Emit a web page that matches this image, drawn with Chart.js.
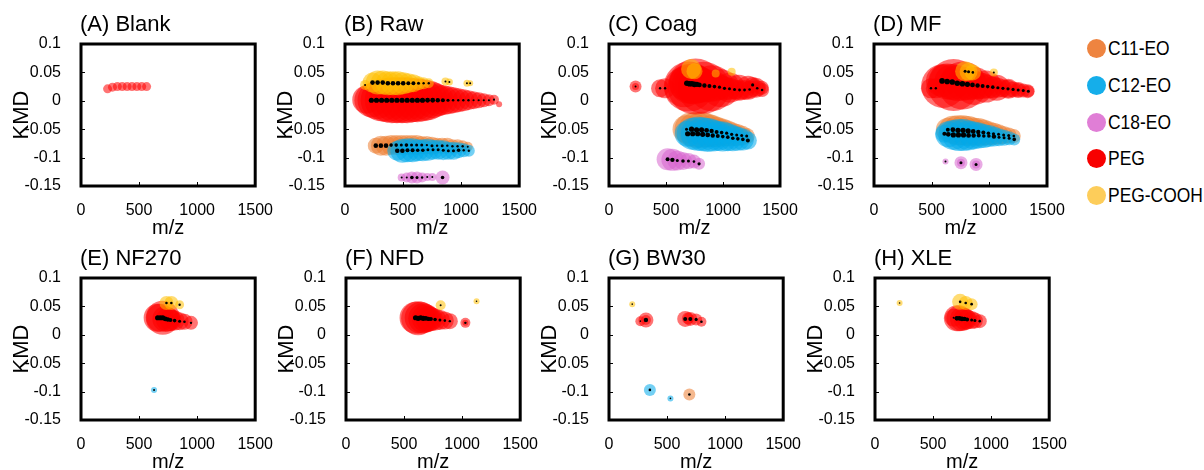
<!DOCTYPE html>
<html>
<head>
<meta charset="utf-8">
<script src="https://cdn.jsdelivr.net/npm/chart.js@4.4.1/dist/chart.umd.min.js"></script>
<style>
  html, body { margin: 0; padding: 0; background: #fff; }
  body { width: 1204px; height: 470px; position: relative; overflow: hidden; }
  canvas { position: absolute; }
  .legend-item {
    position: absolute; left: 1087px; height: 24px; line-height: 24px;
    font: 21px "Liberation Sans", Arial, sans-serif; color: #000;
    white-space: nowrap;
  }
  .legend-item .mark {
    display: inline-block; width: 19px; height: 19px; border-radius: 50%;
    vertical-align: -3px; margin-right: 2px;
  }
  .legend-item .name {
    display: inline-block; transform: scaleX(0.83); transform-origin: 0 50%;
  }
</style>
</head>
<body>
<canvas id="cA" width="280" height="240" style="left:0px;top:0px"></canvas>
<canvas id="cB" width="280" height="240" style="left:264px;top:0px"></canvas>
<canvas id="cC" width="280" height="240" style="left:528px;top:0px"></canvas>
<canvas id="cD" width="280" height="240" style="left:793px;top:0px"></canvas>
<canvas id="cE" width="280" height="240" style="left:0px;top:234px"></canvas>
<canvas id="cF" width="280" height="240" style="left:265px;top:234px"></canvas>
<canvas id="cG" width="280" height="240" style="left:528px;top:234px"></canvas>
<canvas id="cH" width="280" height="240" style="left:794px;top:234px"></canvas>
<div id="legend"></div>
<script>
// axis ticks
const xTickValues = [0, 500, 1000, 1500];
const yTickValues = [-0.15, -0.1, -0.05, 0, 0.05, 0.1];
const yTickLabels = ['-0.15', '-0.1', '-0.05', '0', '0.05', '0.1'];
// panels C and G print the -0.05 tick without its minus sign
const yTickLabelsCG = ['-0.15', '-0.1', '0.05', '0', '0.05', '0.1'];

const seriesNames = ['C11-EO', 'C12-EO', 'C18-EO', 'PEG', 'PEG-COOH'];
const legendColors = ['#EE8440', '#15AEEA', '#E07ED6', '#F80000', '#FDCD5A'];
const bubbleColors = [
  'rgba(237,125,49,0.55)',
  'rgba(0,170,235,0.55)',
  'rgba(215,100,205,0.55)',
  'rgba(255,0,0,0.55)',
  'rgba(255,192,0,0.55)',
];

// each point: [m/z, KMD, bubble r, black dot r]
const blankPEG = [
  [229, 0.021, 4.5, 0], [271, 0.024, 4.5, 0], [313, 0.025, 4.5, 0], [355, 0.025, 4.5, 0],
  [397, 0.025, 4.5, 0], [439, 0.025, 4.5, 0], [481, 0.025, 4.5, 0], [523, 0.025, 4.5, 0],
  [565, 0.025, 4.5, 0],
];

const rawPEG = [
  [183, 0.002, 14, 0], [227, 0.001, 17, 2.6], [271, 0.001, 19, 2.6], [315, 0.001, 21, 2.6],
  [359, 0.001, 22, 2.6], [403, 0.001, 23, 2.6], [447, 0.001, 23, 2.6], [491, 0.001, 23, 2.6],
  [535, 0.001, 23, 2.6], [579, 0.001, 22, 2.6], [623, 0.001, 22, 2.6], [667, 0.001, 21, 2.6],
  [711, 0.001, 20, 2.4], [755, 0.001, 18, 2.4], [799, 0.001, 16, 2.2], [843, 0.001, 15, 2.0],
  [887, 0.001, 14, 1.6], [931, 0.001, 13, 1.3], [975, 0.001, 12, 1.2], [1019, 0.001, 11, 1.2],
  [1063, 0.001, 10, 1.2], [1107, 0.001, 9, 1.1], [1151, 0.001, 8, 1.1], [1195, 0.001, 7, 1.1],
  [1239, 0.001, 6, 1.1], [1283, 0.002, 5, 1.1], [1327, -0.006, 3, 0],
];
const rawCOOH = [
  [173, 0.028, 5, 1.0], [237, 0.032, 10, 2.3], [281, 0.032, 12, 2.3], [325, 0.032, 12, 2.3],
  [369, 0.031, 12, 2.3], [413, 0.031, 12, 2.3], [457, 0.031, 12, 2.3], [501, 0.031, 11, 2.3],
  [545, 0.031, 10, 2.0], [589, 0.031, 9, 2.0], [633, 0.031, 7, 1.5], [677, 0.031, 6, 1.2],
  [721, 0.031, 5, 1.2], [865, 0.034, 4, 1.0], [899, 0.033, 3.5, 1.0], [1050, 0.031, 3.5, 1.0],
  [1078, 0.031, 3, 1.0],
];
const rawC11 = [
  [265, -0.079, 8, 2.3], [309, -0.079, 10, 2.3], [353, -0.079, 10, 2.3], [397, -0.078, 10, 1.8],
  [441, -0.078, 10, 1.8], [485, -0.078, 10, 1.5], [529, -0.078, 10, 1.8], [573, -0.078, 10, 1.5],
  [617, -0.078, 10, 1.5], [661, -0.078, 9, 1.5], [705, -0.078, 9, 1.2], [749, -0.079, 9, 1.5],
  [793, -0.079, 8, 1.2], [837, -0.079, 8, 1.5], [881, -0.079, 8, 1.2], [925, -0.080, 7, 1.2],
  [969, -0.080, 7, 1.2], [1013, -0.080, 6, 1.2], [1057, -0.081, 5, 1.0],
];
const rawC12 = [
  [450, -0.088, 10, 2.3], [494, -0.088, 12, 2.3], [538, -0.087, 12, 2.0], [582, -0.087, 12, 2.0],
  [626, -0.087, 11, 1.8], [670, -0.087, 11, 1.8], [714, -0.086, 11, 1.5], [758, -0.086, 10, 1.5],
  [802, -0.086, 10, 1.5], [846, -0.087, 10, 1.5], [890, -0.088, 9, 1.5], [934, -0.088, 9, 1.5],
  [978, -0.087, 8, 1.8], [1022, -0.087, 7, 1.2], [1066, -0.088, 6, 1.2],
];
const rawC18 = [
  [488, -0.135, 4, 1.0], [532, -0.135, 5, 1.0], [576, -0.135, 6, 1.8], [620, -0.135, 6, 1.5],
  [664, -0.135, 5, 1.2], [708, -0.134, 4, 1.0], [752, -0.134, 4, 1.0], [840, -0.135, 7, 1.8],
];

const coagPEG = [
  [233, 0.025, 6, 1.0], [233, 0.025, 3.5, 0], [448, 0.022, 9, 1.2], [492, 0.022, 10, 1.2],
  [660, 0.024, 20, 0], [700, 0.025, 25, 0], [760, 0.025, 28, 0], [830, 0.023, 26, 0],
  [900, 0.022, 23, 0], [980, 0.022, 19, 0], [1060, 0.023, 15, 0], [1140, 0.023, 13, 0],
  [1220, 0.023, 12, 0], [1290, 0.023, 10, 0], [1340, 0.023, 7, 0],
  [683, 0.031, 18, 2.8], [705, 0.030, 20, 2.8], [727, 0.030, 20, 2.8], [749, 0.029, 20, 2.8],
  [771, 0.029, 19, 2.6], [793, 0.028, 18, 2.4], [837, 0.027, 17, 2.2], [881, 0.026, 16, 2.0],
  [925, 0.025, 15, 1.8], [969, 0.024, 13, 1.6], [1013, 0.022, 12, 1.6], [1057, 0.021, 11, 1.5],
  [1101, 0.020, 10, 1.5], [1145, 0.019, 10, 1.4], [1189, 0.019, 10, 1.4], [1233, 0.020, 9, 1.3],
  [1260, 0.028, 8, 1.6], [1300, 0.022, 8, 1.3], [1343, 0.019, 7, 1.3],
];
const coagCOOH = [
  [720, 0.056, 10, 0], [750, 0.052, 8, 0], [936, 0.048, 4, 0], [1076, 0.051, 4, 0],
];
const coagC11 = [
  [680, -0.050, 14, 1.5], [724, -0.050, 17, 2.6], [768, -0.051, 18, 2.6], [812, -0.051, 18, 2.6],
  [856, -0.052, 17, 2.4], [900, -0.053, 16, 2.2], [944, -0.055, 15, 2.0], [988, -0.056, 14, 1.8],
  [1032, -0.057, 13, 1.6], [1076, -0.059, 12, 1.6], [1120, -0.060, 11, 1.5], [1164, -0.061, 10, 1.5],
  [1208, -0.062, 8, 1.5],
];
const coagC12 = [
  [690, -0.058, 13, 2.6], [734, -0.058, 16, 2.6], [778, -0.058, 17, 2.6], [822, -0.059, 17, 2.6],
  [866, -0.060, 17, 2.4], [910, -0.061, 16, 2.2], [954, -0.062, 15, 2.0], [998, -0.063, 15, 1.8],
  [1042, -0.064, 14, 1.8], [1086, -0.066, 13, 1.8], [1130, -0.067, 12, 1.8], [1174, -0.068, 11, 1.8],
  [1218, -0.070, 9, 2.0],
];
const coagC18 = [
  [514, -0.103, 11, 2.0], [556, -0.104, 11, 2.2], [599, -0.105, 10, 1.5], [649, -0.106, 9, 1.8],
  [697, -0.106, 8, 1.5], [745, -0.107, 7, 1.3], [790, -0.111, 6, 1.6],
];

const mfPEG = [
  [494, 0.022, 10, 1.2], [536, 0.022, 10, 1.2],
  [600, 0.026, 22, 0], [690, 0.028, 26, 0], [770, 0.027, 24, 0], [870, 0.026, 19, 0],
  [969, 0.025, 16, 0], [1065, 0.023, 13, 0], [1165, 0.021, 10, 0], [1250, 0.019, 8, 0],
  [1332, 0.017, 7, 0],
  [590, 0.035, 16, 2.8], [634, 0.034, 18, 2.8], [678, 0.033, 18, 2.8], [722, 0.031, 18, 2.8],
  [766, 0.030, 17, 2.8], [810, 0.029, 16, 2.6], [854, 0.028, 15, 2.4], [898, 0.027, 14, 2.2],
  [942, 0.026, 13, 2.0], [986, 0.025, 12, 1.8], [1030, 0.024, 11, 1.8], [1074, 0.023, 10, 1.6],
  [1118, 0.022, 9, 1.6], [1162, 0.021, 9, 1.6], [1206, 0.020, 8, 1.6], [1250, 0.019, 7, 1.5],
  [1294, 0.018, 7, 1.5], [1338, 0.017, 6, 1.5],
];
const mfCOOH = [
  [790, 0.052, 10, 1.5], [820, 0.051, 9, 1.5], [857, 0.050, 8, 1.3], [1039, 0.050, 4, 1.0],
];
const mfC11 = [
  [640, -0.051, 12, 2.0], [684, -0.051, 14, 2.4], [728, -0.052, 15, 2.6], [772, -0.052, 15, 2.6],
  [816, -0.053, 15, 2.6], [860, -0.054, 14, 2.4], [904, -0.055, 14, 2.2], [948, -0.056, 13, 2.0],
  [992, -0.057, 12, 1.8], [1036, -0.058, 11, 1.6], [1080, -0.059, 10, 1.5], [1124, -0.060, 9, 1.5],
  [1168, -0.061, 8, 1.5], [1212, -0.062, 7, 1.3],
];
const mfC12 = [
  [610, -0.058, 9, 2.0], [644, -0.059, 13, 2.4], [688, -0.060, 15, 2.6], [732, -0.060, 16, 2.6],
  [776, -0.060, 16, 2.6], [820, -0.061, 15, 2.4], [864, -0.061, 14, 2.2], [908, -0.061, 13, 2.0],
  [952, -0.062, 12, 1.8], [996, -0.062, 11, 1.8], [1040, -0.063, 10, 2.2], [1084, -0.064, 9, 1.5],
  [1128, -0.065, 8, 1.5], [1172, -0.066, 7, 1.5], [1216, -0.068, 6, 1.8],
];
const mfC18 = [
  [620, -0.107, 3, 1.0], [754, -0.109, 6.5, 1.5], [754, -0.109, 4, 0],
  [885, -0.112, 6.5, 1.5], [885, -0.112, 4, 0],
];

const nf270PEG = [
  [660, 0.030, 14, 2.6], [682, 0.030, 14, 2.6], [704, 0.030, 17, 2.6], [726, 0.028, 13, 2.4],
  [748, 0.027, 12, 2.2], [770, 0.026, 11, 2.0], [806, 0.025, 10, 1.8], [849, 0.024, 9, 1.5],
  [891, 0.023, 8, 1.3], [947, 0.021, 7, 1.2],
];
const nf270COOH = [
  [736, 0.056, 7, 1.3], [778, 0.056, 7, 1.3], [849, 0.053, 4.5, 1.2],
];
const nf270C12 = [
  [629, -0.097, 3, 1.0],
];

const nfdPEG = [
  [599, 0.030, 16, 2.6], [621, 0.029, 17, 2.6], [643, 0.030, 16, 2.6], [665, 0.029, 15, 2.6],
  [687, 0.029, 14, 2.4], [709, 0.028, 13, 2.2], [731, 0.028, 12, 2.0], [767, 0.027, 11, 1.8],
  [809, 0.026, 10, 1.5], [851, 0.025, 9, 1.3], [894, 0.024, 8, 1.2],
  [1028, 0.021, 5, 1.2], [1028, 0.021, 3, 0],
];
const nfdCOOH = [
  [815, 0.052, 5, 1.0], [1124, 0.059, 3, 0.8],
];

const bw30PEG = [
  [270, 0.024, 5, 0.8], [318, 0.026, 7.5, 2.2], [318, 0.026, 5, 0],
  [656, 0.028, 8, 2.0], [680, 0.029, 6, 0], [700, 0.028, 7, 2.0], [750, 0.027, 6, 1.6],
  [796, 0.023, 5, 1.3],
];
const bw30COOH = [
  [200, 0.054, 3, 0.8],
];
const bw30C11 = [
  [692, -0.105, 6, 1.3],
];
const bw30C12 = [
  [352, -0.097, 6, 1.3], [529, -0.112, 3, 0.8],
];

const xlePEG = [
  [677, 0.030, 9, 1.0], [705, 0.029, 13, 2.4], [727, 0.029, 13, 2.4], [749, 0.028, 12, 2.4],
  [771, 0.028, 11, 2.2], [793, 0.027, 10, 2.0], [832, 0.026, 9, 1.5], [860, 0.025, 8, 1.5],
  [902, 0.024, 7, 1.3],
];
const xleCOOH = [
  [212, 0.056, 3, 0.8], [733, 0.058, 8, 1.3], [781, 0.056, 7, 1.3], [832, 0.054, 6, 1.3],
];

// series order: C11-EO, C12-EO, C18-EO, PEG, PEG-COOH
const panels = [
  { canvas: 'cA', title: '(A) Blank', yLabels: yTickLabels, series: [[], [], [], blankPEG, []] },
  { canvas: 'cB', title: '(B) Raw', yLabels: yTickLabels, series: [rawC11, rawC12, rawC18, rawPEG, rawCOOH] },
  { canvas: 'cC', title: '(C) Coag', yLabels: yTickLabelsCG, series: [coagC11, coagC12, coagC18, coagPEG, coagCOOH] },
  { canvas: 'cD', title: '(D) MF', yLabels: yTickLabels, series: [mfC11, mfC12, mfC18, mfPEG, mfCOOH] },
  { canvas: 'cE', title: '(E) NF270', yLabels: yTickLabels, series: [[], nf270C12, [], nf270PEG, nf270COOH] },
  { canvas: 'cF', title: '(F) NFD', yLabels: yTickLabels, series: [[], [], [], nfdPEG, nfdCOOH] },
  { canvas: 'cG', title: '(G) BW30', yLabels: yTickLabelsCG, series: [bw30C11, bw30C12, [], bw30PEG, bw30COOH] },
  { canvas: 'cH', title: '(H) XLE', yLabels: yTickLabels, series: [[], [], [], xlePEG, xleCOOH] },
];

const FONT = '"Liberation Sans", Arial, sans-serif';

const framePlugin = {
  id: 'frame',
  afterDraw(chart, args, opts) {
    const { ctx, chartArea: a, scales } = chart;
    ctx.save();
    ctx.strokeStyle = '#000';
    ctx.lineWidth = 1;
    scales.y.ticks.forEach((t) => {
      const y = Math.round(scales.y.getPixelForValue(t.value)) + 0.5;
      ctx.beginPath();
      ctx.moveTo(a.left, y);
      ctx.lineTo(a.left + 4, y);
      ctx.stroke();
    });
    scales.x.ticks.forEach((t) => {
      const x = Math.round(scales.x.getPixelForValue(t.value)) + 0.5;
      ctx.beginPath();
      ctx.moveTo(x, a.bottom);
      ctx.lineTo(x, a.bottom - 4);
      ctx.stroke();
    });
    ctx.lineWidth = 3;
    ctx.strokeRect(a.left, a.top, a.right - a.left, a.bottom - a.top);
    ctx.fillStyle = '#000';
    ctx.font = '22px ' + FONT;
    ctx.textBaseline = 'middle';
    ctx.textAlign = 'left';
    ctx.fillText(opts.text, a.left - 1, a.top - 19);
    ctx.restore();
  },
};

function toBubbles(points) {
  return points.map((p) => ({ x: p[0], y: p[1], r: p[2] }));
}

function toDots(seriesList) {
  const dots = [];
  seriesList.forEach((points) => {
    points.forEach((p) => {
      if (p[3] > 0) dots.push({ x: p[0], y: p[1], r: p[3] });
    });
  });
  return dots;
}

function buildConfig(panel) {
  const datasets = panel.series.map((points, i) => ({
    label: seriesNames[i],
    data: toBubbles(points),
    backgroundColor: bubbleColors[i],
    borderWidth: 0,
    order: 5 - i,
  }));
  datasets.push({
    label: 'dots',
    data: toDots(panel.series),
    backgroundColor: '#000',
    borderWidth: 0,
    order: 0,
  });

  return {
    type: 'bubble',
    data: { datasets },
    options: {
      responsive: false,
      animation: false,
      events: [],
      layout: { padding: { left: 0, right: 21, top: 44, bottom: 0 } },
      plugins: {
        legend: { display: false },
        tooltip: { enabled: false },
        frame: { text: panel.title },
      },
      scales: {
        x: {
          type: 'linear',
          min: 0,
          max: 1500,
          grid: { display: false },
          border: { display: false },
          afterBuildTicks: (scale) => { scale.ticks = xTickValues.map((v) => ({ value: v })); },
          afterFit: (scale) => { scale.height = 54; },
          ticks: {
            color: '#000',
            padding: 7,
            maxRotation: 0,
            font: { family: FONT, size: 16 },
            callback: (value) => String(value),
          },
          title: {
            display: true,
            text: 'm/z',
            color: '#000',
            padding: { top: 0, bottom: 0 },
            font: { family: FONT, size: 20 },
          },
        },
        y: {
          type: 'linear',
          min: -0.15,
          max: 0.1,
          grid: { display: false },
          border: { display: false },
          afterBuildTicks: (scale) => { scale.ticks = yTickValues.map((v) => ({ value: v })); },
          afterFit: (scale) => { scale.width = 81; },
          ticks: {
            color: '#000',
            padding: 12,
            font: { family: FONT, size: 16 },
            callback: (value, index) => panel.yLabels[index],
          },
          title: {
            display: true,
            text: 'KMD',
            color: '#000',
            padding: { top: 9, bottom: 0 },
            font: { family: FONT, size: 22 },
          },
        },
      },
    },
    plugins: [framePlugin],
  };
}

function renderLegend() {
  const box = document.getElementById('legend');
  seriesNames.forEach((name, i) => {
    const item = document.createElement('div');
    item.className = 'legend-item';
    item.style.top = (48 + i * 36.8 - 12) + 'px';
    const mark = document.createElement('span');
    mark.className = 'mark';
    mark.style.background = legendColors[i];
    const label = document.createElement('span');
    label.className = 'name';
    label.textContent = name;
    item.appendChild(mark);
    item.appendChild(label);
    box.appendChild(item);
  });
}

panels.forEach((panel) => {
  new Chart(document.getElementById(panel.canvas), buildConfig(panel));
});
renderLegend();
</script>
</body>
</html>
